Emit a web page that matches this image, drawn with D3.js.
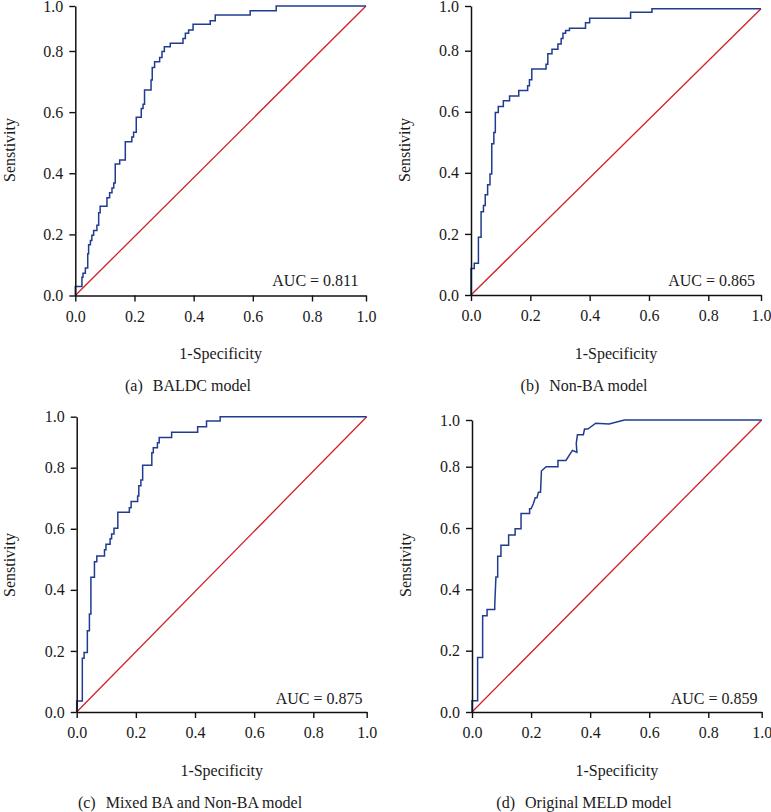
<!DOCTYPE html>
<html><head><meta charset="utf-8">
<script src="https://cdn.jsdelivr.net/npm/d3@7"></script>
<style>
html,body{margin:0;padding:0;background:#fff;}
svg{display:block;}
text{font-family:"Liberation Serif","Times New Roman",serif;fill:#1a1a1a;}
</style></head>
<body>
<svg id="chart" width="771" height="812"></svg>
<script>
// ---- data ----
const tickValues = [0, 0.2, 0.4, 0.6, 0.8, 1.0];
const panelLetters = ["a", "b", "c", "d"];
const panelNames = ["BALDC model", "Non-BA model", "Mixed BA and Non-BA model", "Original MELD model"];
const aucValues = ["0.811", "0.865", "0.875", "0.859"];
const xLabel = "1-Specificity";
const yLabel = "Senstivity";

const rocA = [[0,0],[0,0.0295],[0.0225,0.0295],[0.0225,0.060],[0.026,0.060],[0.026,0.073],[0.034,0.073],[0.034,0.090],
 [0.042,0.090],[0.042,0.137],[0.045,0.137],[0.045,0.166],[0.051,0.166],[0.051,0.180],[0.056,0.180],[0.056,0.197],
 [0.062,0.197],[0.062,0.213],[0.073,0.213],[0.073,0.230],[0.079,0.230],[0.079,0.271],[0.084,0.271],[0.084,0.292],
 [0.107,0.292],[0.107,0.320],[0.116,0.320],[0.116,0.336],[0.124,0.336],[0.124,0.352],[0.130,0.352],[0.130,0.368],
 [0.135,0.368],[0.135,0.430],[0.150,0.430],[0.150,0.443],[0.169,0.443],[0.169,0.503],[0.191,0.503],[0.191,0.519],
 [0.197,0.519],[0.197,0.534],[0.206,0.534],[0.206,0.583],[0.223,0.583],[0.223,0.612],[0.229,0.612],[0.229,0.626],
 [0.234,0.626],[0.234,0.672],[0.256,0.672],[0.256,0.705],[0.260,0.705],[0.260,0.746],[0.268,0.746],[0.268,0.765],
 [0.285,0.765],[0.285,0.779],[0.293,0.779],[0.293,0.798],[0.301,0.798],[0.301,0.819],[0.321,0.819],[0.321,0.834],
 [0.364,0.834],[0.364,0.856],[0.372,0.856],[0.372,0.879],[0.383,0.879],[0.383,0.893],[0.398,0.893],[0.398,0.919],
 [0.456,0.919],[0.456,0.935],[0.473,0.935],[0.473,0.960],[0.591,0.960],[0.591,0.979],[0.679,0.979],[0.679,1.0],[1,1]];

const rocB = [[0,0],[0,0.087],[0.011,0.087],[0.011,0.104],[0.025,0.104],[0.025,0.189],[0.034,0.189],[0.034,0.273],
 [0.042,0.273],[0.042,0.293],[0.048,0.293],[0.048,0.328],[0.056,0.328],[0.056,0.361],[0.064,0.361],[0.064,0.396],
 [0.070,0.396],[0.070,0.495],[0.077,0.495],[0.077,0.532],[0.082,0.532],[0.082,0.598],[0.092,0.598],[0.092,0.617],
 [0.109,0.617],[0.109,0.636],[0.130,0.636],[0.130,0.652],[0.161,0.652],[0.161,0.670],[0.191,0.670],[0.191,0.685],
 [0.197,0.685],[0.197,0.705],[0.205,0.705],[0.205,0.740],[0.253,0.740],[0.253,0.756],[0.259,0.756],[0.259,0.790],
 [0.273,0.790],[0.273,0.806],[0.293,0.806],[0.293,0.830],[0.304,0.830],[0.304,0.855],[0.310,0.855],[0.310,0.878],
 [0.319,0.878],[0.319,0.890],[0.332,0.890],[0.332,0.900],[0.386,0.900],[0.386,0.925],[0.400,0.925],[0.400,0.945],
 [0.538,0.945],[0.538,0.972],[0.610,0.972],[0.610,0.988],[1,0.988]];

const rocC = [[0,0],[0,0.036],[0.019,0.036],[0.019,0.176],[0.025,0.176],[0.025,0.195],[0.036,0.195],[0.036,0.266],
 [0.043,0.266],[0.043,0.321],[0.048,0.321],[0.048,0.441],[0.060,0.441],[0.060,0.492],[0.068,0.492],[0.068,0.511],
 [0.094,0.511],[0.094,0.531],[0.099,0.531],[0.099,0.549],[0.113,0.549],[0.113,0.567],[0.118,0.567],[0.118,0.583],
 [0.126,0.583],[0.126,0.602],[0.139,0.602],[0.139,0.654],[0.178,0.654],[0.178,0.669],[0.184,0.669],[0.184,0.689],
 [0.206,0.689],[0.206,0.707],[0.210,0.707],[0.210,0.741],[0.217,0.741],[0.217,0.760],[0.223,0.760],[0.223,0.810],
 [0.254,0.810],[0.254,0.859],[0.259,0.859],[0.259,0.878],[0.273,0.878],[0.273,0.898],[0.279,0.898],[0.279,0.918],
 [0.321,0.918],[0.321,0.939],[0.409,0.939],[0.409,0.961],[0.439,0.961],[0.439,0.983],[0.485,0.983],[0.485,1.0],[1,1]];

const rocD = [[0,0],[0,0.037],[0.019,0.037],[0.019,0.178],[0.036,0.178],[0.036,0.314],[0.051,0.314],[0.051,0.334],
 [0.077,0.334],[0.077,0.348],[0.081,0.440],[0.087,0.440],[0.087,0.508],[0.098,0.508],[0.098,0.544],[0.124,0.544],
 [0.124,0.577],[0.146,0.577],[0.146,0.598],[0.166,0.598],[0.166,0.647],[0.195,0.647],[0.195,0.663],[0.200,0.663],
 [0.208,0.680],[0.214,0.699],[0.220,0.699],[0.225,0.717],[0.232,0.717],[0.235,0.786],[0.251,0.800],[0.291,0.800],
 [0.291,0.827],[0.318,0.827],[0.340,0.870],[0.355,0.862],[0.353,0.900],[0.357,0.937],[0.377,0.937],[0.381,0.961],
 [0.392,0.961],[0.419,0.986],[0.464,0.983],[0.516,1.0],[1,1]];

const rocSeries = [rocA, rocB, rocC, rocD];

// ---- layout (pixel geometry of each panel; axis range is compressed between 0.8 and 1.0 as in the source) ----
const layout = [
  {x:[75.3,312,366],  y:[295.5,51,6],   ylab:[9,150],   xlabY:359, capX:188, capY:391, aucX:358.5, aucY:286},
  {x:[471,708.3,761], y:[295,50.7,6],   ylab:[404,150], xlabY:359, capX:584, capY:391, aucX:755,   aucY:286},
  {x:[76.7,313.3,366.7], y:[712,467.7,416.7], ylab:[9,565], xlabY:775.5, capX:190, capY:808, aucX:362.5, aucY:704},
  {x:[472,708.3,761.7],  y:[712,466.7,420],   ylab:[405.5,565], xlabY:775.5, capX:584, capY:808, aucX:757.5, aucY:704}
];

const BLUE = "#213c8e", RED = "#cf2027";
const svg = d3.select("#chart");
const fmt = d3.format(".1f");

rocSeries.forEach((roc, i) => {
  const L = layout[i];
  const x = d3.scaleLinear().domain([0, 0.8, 1]).range(L.x);
  const y = d3.scaleLinear().domain([0, 0.8, 1]).range(L.y);
  const g = svg.append("g");

  // diagonal reference line
  const diag = [[0, 0], roc[roc.length - 1]];
  const line = d3.line().x(d => x(d[0])).y(d => y(d[1]));
  g.append("path").datum(diag).attr("d", line)
    .attr("fill", "none").attr("stroke", RED).attr("stroke-width", 1.3);

  // ROC curve
  g.append("path").datum(roc).attr("d", line)
    .attr("fill", "none").attr("stroke", BLUE).attr("stroke-width", 1.5)
    .attr("stroke-linejoin", "miter");

  // axes
  const xAxis = d3.axisBottom(x).tickValues(tickValues).tickFormat(fmt)
    .tickSize(6).tickSizeOuter(0).tickPadding(9);
  const yAxis = d3.axisLeft(y).tickValues(tickValues).tickFormat(fmt)
    .tickSize(6).tickSizeOuter(0).tickPadding(6);
  const gx = g.append("g").attr("transform", `translate(0,${L.y[0]})`).call(xAxis);
  const gy = g.append("g").attr("transform", `translate(${L.x[0]},0)`).call(yAxis);
  [gx, gy].forEach(a => {
    a.selectAll("path.domain").attr("stroke", "#111").attr("stroke-width", 1.5);
    a.selectAll(".tick line").attr("stroke", "#111").attr("stroke-width", 1.4);
    a.selectAll(".tick text").attr("font-size", 16).attr("fill", "#1a1a1a")
      .attr("font-family", '"Liberation Serif","Times New Roman",serif');
  });

  // axis titles
  g.append("text")
    .attr("transform", `translate(${L.ylab[0]},${L.ylab[1]}) rotate(-90)`)
    .attr("text-anchor", "middle").attr("dy", "0.35em")
    .attr("font-size", 16).text(yLabel);
  g.append("text")
    .attr("x", (L.x[0] + L.x[2]) / 2).attr("y", L.xlabY)
    .attr("text-anchor", "middle").attr("font-size", 16).text(xLabel);

  // AUC
  g.append("text")
    .attr("x", L.aucX).attr("y", L.aucY)
    .attr("text-anchor", "end").attr("font-size", 16)
    .text("AUC = " + aucValues[i]);

  // caption
  const cap = g.append("text")
    .attr("x", L.capX).attr("y", L.capY)
    .attr("text-anchor", "middle").attr("font-size", 16);
  cap.append("tspan").text("(" + panelLetters[i] + ")");
  cap.append("tspan").attr("dx", 10).text(panelNames[i]);
});
</script>
</body></html>
